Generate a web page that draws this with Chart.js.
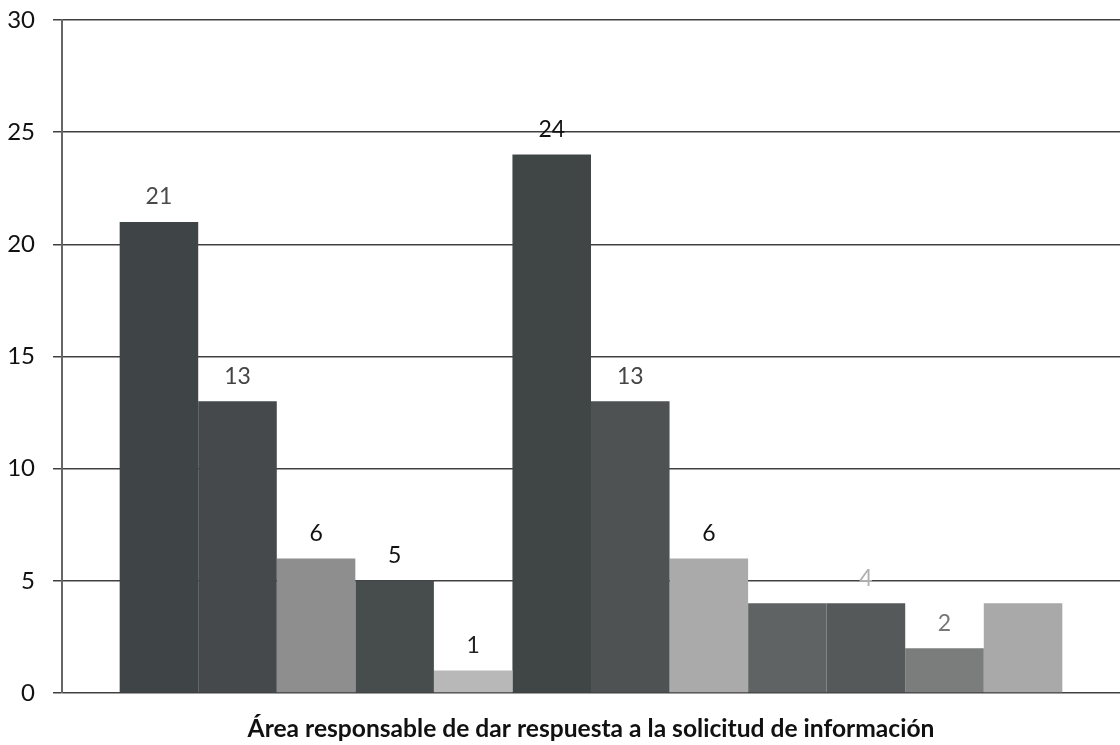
<!DOCTYPE html>
<html>
<head>
<meta charset="utf-8">
<script src="https://cdn.jsdelivr.net/npm/chart.js@4/dist/chart.umd.min.js"></script>
<style>
  html, body { margin: 0; padding: 0; background: #ffffff; }
  #wrap { width: 1120px; height: 745px; position: relative; }
</style>
</head>
<body>
<div id="wrap"><canvas id="c" width="1120" height="745"></canvas></div>
<script>
// ---- data ----
const categories = [''];
const axisTitle = 'Área responsable de dar respuesta a la solicitud de información';
const seriesNames = ['Área 1','Área 2','Área 3','Área 4','Área 5','Área 6','Área 7','Área 8','Área 9','Área 10','Área 11','Área 12'];
const values = [21, 13, 6, 5, 1, 24, 13, 6, 4, 4, 2, 4];
const valueLabels = ['21', '13', '6', '5', '1', '24', '13', '6', '', '4', '2', ''];
const yTicks = [0, 5, 10, 15, 20, 25, 30];

// ---- styles ----
const barColors = ['#3f4446','#45494b','#8e8e8e','#474c4d','#b8b8b8','#404546','#4e5253','#aaaaaa','#606363','#56595a','#7b7d7d','#a9a9a9'];
const labelColors = ['#4a4a4a','#444444','#111111','#111111','#222222','#111111','#444444','#111111','#aaaaaa','#b0b0b0','#777777','#aaaaaa'];
const FONT = 'Lato, "Open Sans", sans-serif';

// size the axis title so that it spans about the same width as in the reference
const mctx = document.createElement('canvas').getContext('2d');
mctx.font = 'bold 20px ' + FONT;
const titleSize = Math.round(20 * 686 / mctx.measureText(axisTitle).width * 10) / 10;

const datasets = seriesNames.map((name, i) => ({
  label: name,
  data: [values[i]],
  backgroundColor: barColors[i],
  borderWidth: 0,
  barPercentage: 1.0,
  categoryPercentage: 0.891
}));

const valueLabelPlugin = {
  id: 'valueLabels',
  afterDatasetsDraw(chart) {
    const ctx = chart.ctx;
    ctx.save();
    ctx.font = '23px ' + FONT;
    ctx.textAlign = 'center';
    ctx.textBaseline = 'middle';
    chart.data.datasets.forEach((ds, i) => {
      const meta = chart.getDatasetMeta(i);
      const bar = meta.data[0];
      if (!bar || !valueLabels[i]) return;
      ctx.fillStyle = labelColors[i];
      ctx.fillText(valueLabels[i], bar.x, bar.y - 25);
    });
    ctx.restore();
  }
};

new Chart(document.getElementById('c'), {
  type: 'bar',
  data: { labels: categories, datasets },
  options: {
    responsive: false,
    animation: false,
    layout: { padding: { top: 20, right: 0, bottom: 0, left: 0 } },
    plugins: {
      legend: { display: false },
      tooltip: { enabled: false }
    },
    scales: {
      x: {
        grid: { display: false, drawTicks: false },
        border: { display: false },
        ticks: { display: false },
        title: {
          display: true,
          text: axisTitle,
          color: '#111111',
          font: { family: FONT, size: titleSize, weight: 'bold' },
          padding: { top: 0, bottom: 1 }
        },
        afterFit(scale) { scale.height = 52; scale.paddingLeft = 0; scale.paddingRight = 0; }
      },
      y: {
        min: 0,
        max: 30,
        afterBuildTicks(scale) { scale.ticks = yTicks.map(v => ({ value: v })); },
        ticks: {
          color: '#111111',
          font: { family: FONT, size: 24 },
          padding: 18
        },
        grid: {
          color: '#404040',
          lineWidth: 1.5,
          tickLength: 9,
          drawTicks: true
        },
        border: { display: true, color: '#666666', width: 2 },
        afterFit(scale) { scale.width = 62; scale.paddingTop = 0; scale.paddingBottom = 0; }
      }
    }
  },
  plugins: [valueLabelPlugin]
});
</script>
</body>
</html>
